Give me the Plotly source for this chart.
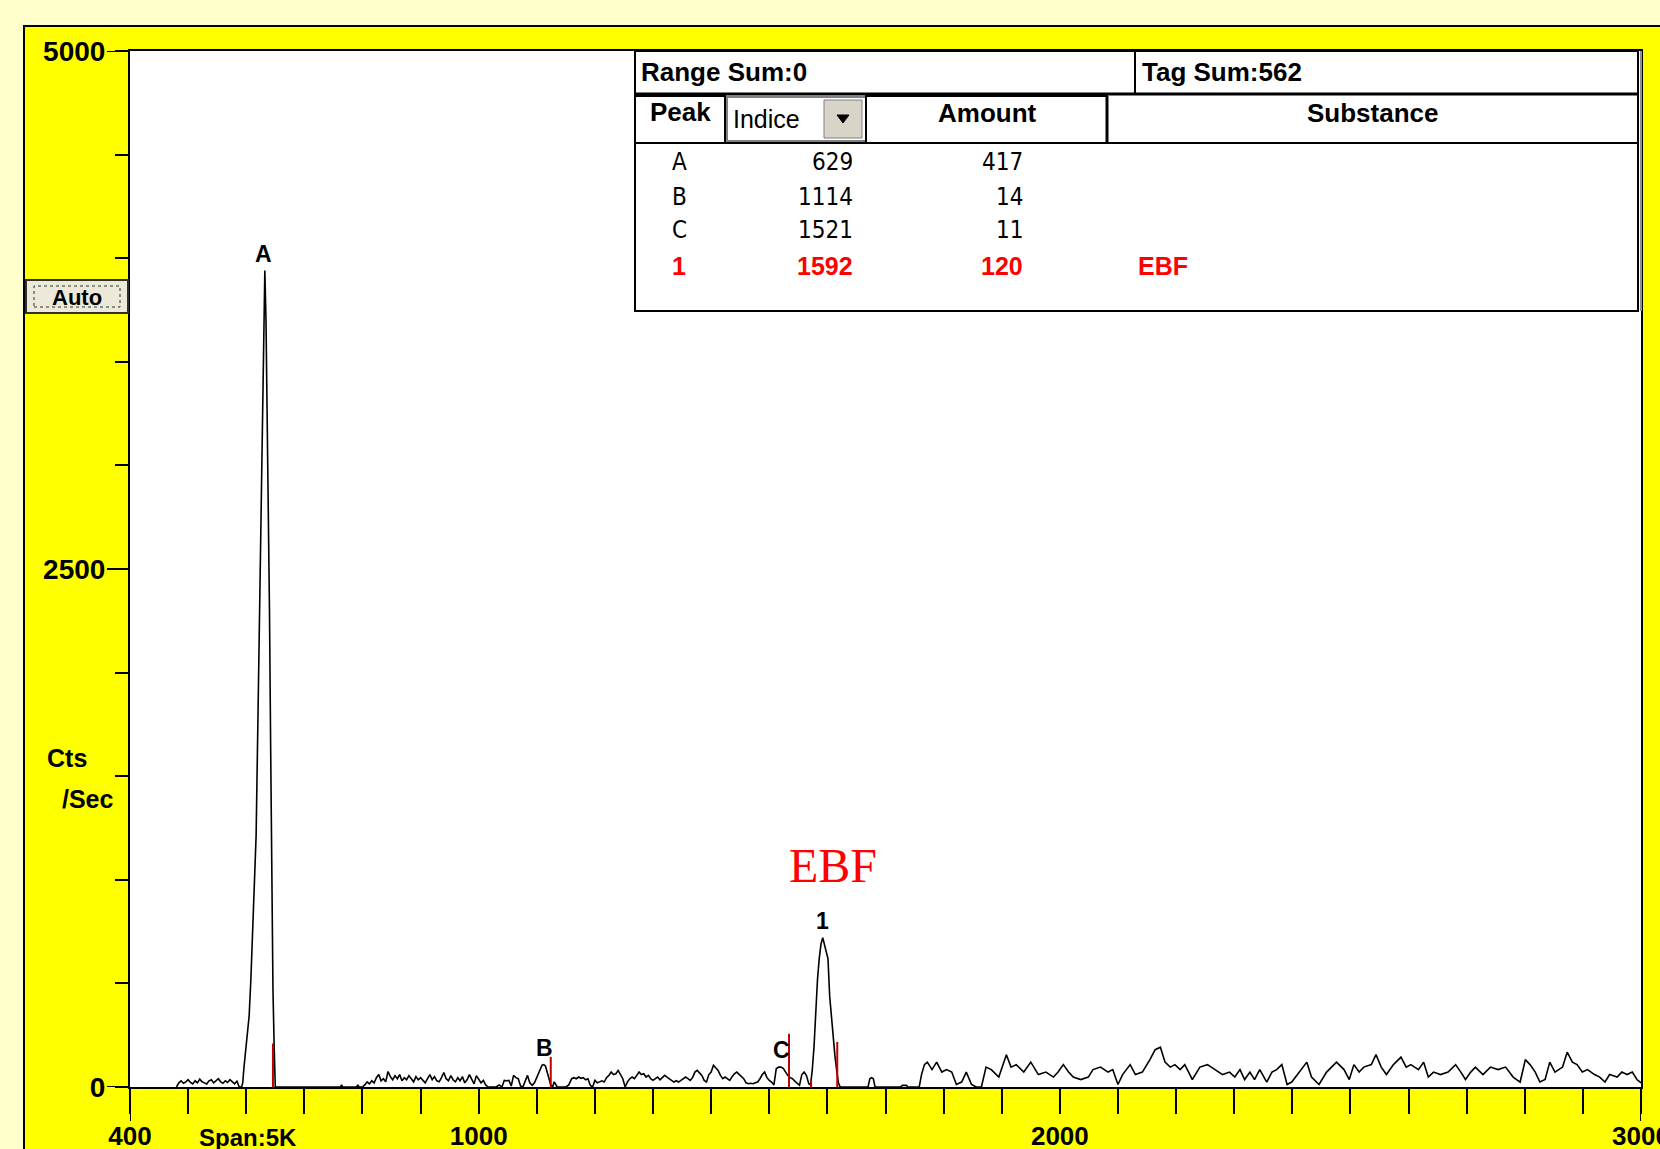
import plotly.graph_objects as go

# ---------------- data ----------------
# spectrum: retention index vs counts/sec
pre_a_idx = [480, 484, 488, 492, 496, 500, 504, 508, 512, 516, 520, 524, 528, 532, 536, 540, 544, 548, 552, 556, 560, 564, 568, 572, 576, 580, 584, 588]
pre_a_cps = [0, 20, 30, 18, 25, 35, 22, 15, 30, 20, 38, 25, 20, 15, 30, 35, 20, 28, 40, 25, 18, 30, 22, 35, 25, 15, 28, 0]

peak_a_idx = [592, 594, 596, 599, 602, 605, 608, 611, 614, 617, 620, 623, 626, 628, 630, 632, 634, 636, 638, 640, 642, 644, 646, 648, 650]
peak_a_cps = [0, 20, 92, 171, 250, 343, 520, 738, 960, 1212, 1750, 2332, 2800, 3229, 3703, 3940, 3703, 3300, 2912, 2300, 1647, 1000, 474, 200, 0]

gap_idx = [660, 700, 740, 762, 764, 766, 790, 792, 794, 800]
gap_cps = [0, 0, 0, 0, 10, 0, 0, 10, 0, 0]

mid_idx = [804, 808, 812, 816, 820, 824, 828, 832, 836, 840, 844, 848, 852, 856, 860, 864, 868, 872, 876, 880,
           884, 888, 892, 896, 900, 904, 908, 912, 916, 920, 924, 928, 932, 936, 940, 944, 948, 952, 956, 960,
           964, 968, 972, 976, 980, 984, 988, 992, 996, 1000]
mid_cps = [10, 25, 15, 30, 20, 45, 60, 30, 40, 25, 75, 50, 35, 55, 40, 60, 30, 45, 35, 55,
           40, 25, 50, 35, 45, 30, 20, 40, 60, 35, 50, 30, 25, 45, 70, 40, 30, 55, 35, 25,
           45, 30, 50, 20, 35, 60, 40, 15, 55, 40]

b_idx = [1004, 1008, 1012, 1016, 1020, 1025, 1030, 1035, 1040, 1044, 1048, 1052, 1056, 1060, 1064, 1068, 1072, 1076,
         1080, 1084, 1088, 1092, 1096, 1100, 1103, 1106, 1109, 1112, 1115, 1118, 1121, 1124, 1127, 1130, 1135, 1140]
b_cps = [20, 32, 10, 0, 0, 0, 0, 10, 0, 32, 30, 32, 5, 56, 45, 40, 5, 0,
         30, 56, 20, 8, 20, 45, 72, 90, 105, 108, 100, 70, 40, 10, 0, 25, 0, 0]

after_b_idx = [1145, 1150, 1155, 1160, 1164, 1168, 1172, 1176, 1180, 1184, 1188, 1192, 1196, 1200, 1204, 1208, 1212, 1216, 1220, 1224,
               1228, 1232, 1236, 1240, 1244, 1248, 1252, 1256, 1260, 1264, 1268, 1272, 1276, 1280, 1284, 1288, 1292, 1296, 1300]
after_b_cps = [0, 0, 10, 40, 45, 40, 48, 42, 45, 35, 40, 8, 0, 32, 20, 24, 30, 24, 45, 56,
               72, 60, 64, 80, 60, 40, 0, 25, 40, 48, 40, 56, 72, 60, 64, 48, 56, 40, 32]

before_c_idx = [1304, 1308, 1312, 1316, 1320, 1324, 1328, 1332, 1336, 1340, 1344, 1348, 1352, 1356, 1360, 1364, 1368, 1372, 1376, 1380,
                1384, 1388, 1392, 1396, 1400, 1404, 1408, 1412, 1416, 1420, 1424, 1428, 1432, 1436, 1440, 1444, 1448, 1452, 1456, 1460,
                1464, 1468, 1472, 1476, 1480, 1484, 1488, 1492, 1496, 1500, 1504, 1508]
before_c_cps = [40, 48, 35, 45, 56, 48, 40, 32, 24, 30, 24, 32, 40, 48, 40, 32, 45, 72, 80, 65,
                56, 32, 24, 60, 72, 105, 90, 80, 56, 40, 48, 40, 32, 50, 64, 72, 60, 48, 40, 20,
                16, 18, 16, 20, 24, 40, 60, 72, 45, 32, 24, 10]

c_peak1_idx = [1512, 1516, 1520, 1524, 1528, 1532, 1536, 1540, 1544, 1548, 1552, 1556, 1560, 1564, 1568, 1571, 1574, 1577, 1580, 1583,
               1586, 1589, 1592, 1595, 1598, 1601, 1604, 1607, 1610, 1613, 1616, 1619, 1622]
c_peak1_cps = [88, 96, 96, 90, 72, 55, 45, 40, 28, 20, 8, 60, 72, 55, 16, 10, 82, 195, 380, 520,
               621, 690, 720, 690, 660, 620, 436, 330, 243, 150, 80, 20, 0]

after_1_idx = [1630, 1650, 1670, 1673, 1676, 1679, 1682, 1700, 1726, 1729, 1736, 1739, 1750, 1758]
after_1_cps = [0, 0, 0, 40, 45, 40, 0, 0, 0, 8, 8, 0, 0, 0]

tail_idx = [1762, 1767, 1772, 1780, 1788, 1797, 1805, 1814, 1822, 1831, 1839, 1848, 1856, 1865, 1873, 1882, 1895, 1908, 1916, 1925,
            1938, 1950, 1963, 1976, 1989, 1997, 2006, 2015, 2023, 2036, 2049, 2057, 2070, 2083, 2091, 2100, 2108, 2121, 2130, 2142,
            2155, 2164, 2173, 2181, 2190, 2198, 2207, 2215, 2228, 2241, 2254, 2267, 2280, 2292, 2301, 2310, 2318, 2327, 2335, 2344,
            2356, 2365, 2373, 2382, 2391, 2399, 2412, 2425, 2433, 2446, 2459, 2468, 2476, 2489, 2498, 2506, 2515, 2523, 2536, 2544,
            2553, 2562, 2574, 2587, 2596, 2604, 2617, 2626, 2634, 2643, 2655, 2668, 2681, 2690, 2698, 2707, 2715, 2728, 2741, 2754,
            2767, 2780, 2792, 2801, 2809, 2818, 2826, 2835, 2843, 2852, 2865, 2873, 2882, 2890, 2899, 2908, 2920, 2929, 2938, 2946,
            2959, 2967, 2976, 2985, 2993, 3000]
tail_cps = [60, 108, 120, 84, 120, 72, 84, 72, 12, 24, 72, 12, 0, 0, 96, 84, 48, 156, 96, 108,
            72, 120, 60, 72, 48, 72, 108, 72, 48, 36, 48, 84, 96, 72, 84, 12, 60, 108, 60, 72,
            132, 180, 192, 120, 96, 108, 84, 108, 36, 96, 108, 84, 60, 72, 48, 84, 36, 72, 36, 84,
            24, 72, 84, 108, 12, 24, 72, 120, 48, 12, 72, 96, 120, 84, 36, 108, 72, 96, 108, 156,
            96, 60, 108, 144, 96, 108, 84, 120, 48, 72, 60, 72, 108, 72, 36, 72, 96, 60, 96, 84,
            96, 48, 24, 132, 108, 72, 24, 36, 120, 72, 96, 168, 120, 108, 72, 84, 60, 48, 24, 60,
            48, 72, 60, 72, 36, 20]

# peak boundary tags (red)
tag_idx = [646, 1124, 1534, 1572, 1617]
tag_cps = [210, 145, 257, 30, 217]

# peak table
peak_names = ["A", "B", "C", "1"]
peak_indices = [629, 1114, 1521, 1592]
peak_amounts = [417, 14, 11, 120]
peak_substance = ["", "", "", "EBF"]
peak_top_cps = [3940, 108, 96, 720]
range_sum = 0
tag_sum = 562

x_tick_vals = list(range(400, 3001, 100))
x_tick_labels = [400, 1000, 2000, 3000]
y_tick_vals = list(range(0, 5001, 500))
y_tick_labels = [0, 2500, 5000]

# ---------------- layout helpers ----------------
W, H = 1660, 1149
L, R, T, B = 130, 1641, 51, 1087  # plot area in pixels


def px(xp):
    return (xp - L) / (R - L)


def py(yp):
    return (B - yp) / (B - T)


SANS = "Liberation Sans, Arial, sans-serif"
NARROW = "Liberation Sans Narrow, Arial Narrow, DejaVu Sans Condensed, sans-serif"
SERIF = "Liberation Serif, Times New Roman, DejaVu Serif, serif"

spec_x = pre_a_idx + peak_a_idx + gap_idx + mid_idx + b_idx + after_b_idx + before_c_idx + c_peak1_idx + after_1_idx + tail_idx
spec_y = pre_a_cps + peak_a_cps + gap_cps + mid_cps + b_cps + after_b_cps + before_c_cps + c_peak1_cps + after_1_cps + tail_cps

fig = go.Figure()
fig.add_trace(go.Scatter(x=spec_x, y=spec_y, mode="lines",
                         line=dict(color="black", width=1.6), hoverinfo="skip"))

tx, ty = [], []
for xi, h in zip(tag_idx, tag_cps):
    tx += [xi, xi, None]
    ty += [0, h, None]
fig.add_trace(go.Scatter(x=tx, y=ty, mode="lines", line=dict(color="#C00000", width=2), hoverinfo="skip"))

shapes = []
annotations = []

# yellow panel and white plot area
shapes.append(dict(type="rect", xref="paper", yref="paper", x0=px(24), x1=px(1700), y0=py(26), y1=py(1200),
                   fillcolor="#FFFF00", line=dict(color="black", width=2), layer="below"))
shapes.append(dict(type="rect", xref="paper", yref="paper", x0=0, x1=1, y0=0, y1=1,
                   fillcolor="white", line=dict(width=0), layer="below"))

# longer ticks for labelled values
for v in y_tick_labels:
    shapes.append(dict(type="line", xref="paper", yref="y", x0=px(107), x1=px(118), y0=v, y1=v,
                       line=dict(color="black", width=2)))
for v in [x_tick_vals[0], x_tick_vals[-1]]:
    shapes.append(dict(type="line", xref="x", yref="paper", x0=v, x1=v, y0=py(1110), y1=py(1121),
                       line=dict(color="black", width=2)))

# ---- peak table ----
tl, tr, tt, tb = 635, 1638, 51, 311
shapes.append(dict(type="rect", xref="paper", yref="paper", x0=px(tl), x1=px(tr), y0=py(tb), y1=py(tt),
                   fillcolor="white", line=dict(color="black", width=2), layer="above"))
shapes.append(dict(type="line", xref="paper", yref="paper", x0=px(tr + 3), x1=px(tr + 3), y0=py(tb), y1=py(tt),
                   line=dict(color="#909090", width=2)))
shapes.append(dict(type="line", xref="paper", yref="paper", x0=px(tl), x1=px(tr), y0=py(94), y1=py(94),
                   line=dict(color="black", width=3)))
shapes.append(dict(type="line", xref="paper", yref="paper", x0=px(1135), x1=px(1135), y0=py(tt), y1=py(93),
                   line=dict(color="black", width=2)))
shapes.append(dict(type="line", xref="paper", yref="paper", x0=px(tl), x1=px(tr), y0=py(143), y1=py(143),
                   line=dict(color="black", width=2)))
# header cells
shapes.append(dict(type="rect", xref="paper", yref="paper", x0=px(tl), x1=px(725), y0=py(143), y1=py(96),
                   line=dict(color="black", width=2)))
shapes.append(dict(type="rect", xref="paper", yref="paper", x0=px(727), x1=px(866), y0=py(141), y1=py(97),
                   fillcolor="white", line=dict(color="#808080", width=2)))
shapes.append(dict(type="rect", xref="paper", yref="paper", x0=px(824), x1=px(862), y0=py(138), y1=py(100),
                   fillcolor="#D8D4C8", line=dict(color="#808080", width=1)))
shapes.append(dict(type="path", xref="paper", yref="paper",
                   path=f"M {px(837)},{py(115)} L {px(849)},{py(115)} L {px(843)},{py(123)} Z",
                   fillcolor="black", line=dict(color="black", width=1)))
shapes.append(dict(type="rect", xref="paper", yref="paper", x0=px(866), x1=px(1107), y0=py(143), y1=py(96),
                   line=dict(color="black", width=2)))
shapes.append(dict(type="line", xref="paper", yref="paper", x0=px(1107), x1=px(1107), y0=py(143), y1=py(96),
                   line=dict(color="black", width=3)))

# Auto button
shapes.append(dict(type="rect", xref="paper", yref="paper", x0=px(26), x1=px(128), y0=py(313), y1=py(280),
                   fillcolor="#ECE9D8", line=dict(color="#303030", width=2)))
shapes.append(dict(type="rect", xref="paper", yref="paper", x0=px(34), x1=px(120), y0=py(307), y1=py(286),
                   line=dict(color="#303030", width=1, dash="dot")))


def ann(text, x, y, size, xanchor="left", color="black", bold=True, family=SANS):
    annotations.append(dict(text=text, xref="paper", yref="paper", x=px(x), y=py(y), showarrow=False,
                            xanchor=xanchor, yanchor="middle",
                            font=dict(family=family, size=size, color=color,
                                      weight="bold" if bold else "normal")))


ann("Auto", 77, 297, 22, "center")
ann("Cts", 45, 758, 25)
ann("/Sec", 60, 799, 25)
ann("Span:5K", 197, 1137, 24)

ann(f"Range Sum:{range_sum}", 639, 72, 26)
ann(f"Tag Sum:{tag_sum}", 1140, 72, 26)
ann("Peak", 680, 112, 26, "center")
ann("Indice", 731, 119, 25, bold=False)
ann("Amount", 987, 113, 26, "center")
ann("Substance", 1373, 113, 26, "center")

row_y = [162, 197, 230, 266]
for name, idx, amt, sub, yy in zip(peak_names, peak_indices, peak_amounts, peak_substance, row_y):
    red = sub != ""
    color = "#FF0000" if red else "black"
    fam = SANS if red else NARROW
    size = 25 if red else 24
    ann(name, 679, yy, size, "center", color, red, fam)
    ann(str(idx), 855, yy, size, "right", color, red, fam)
    ann(str(amt), 1025, yy, size, "right", color, red, fam)
    if sub:
        ann(sub, 1136, yy, size, "left", color, red, fam)

# peak letters above the trace
for name, idx, top in zip(peak_names, peak_indices, peak_top_cps):
    annotations.append(dict(text=name, xref="x", yref="y", x=idx, y=top, showarrow=False,
                            xanchor="center", yanchor="middle", yshift=17,
                            font=dict(family=SANS, size=23, color="black", weight="bold")))

# substance name in red serif
for name, idx, top, sub in zip(peak_names, peak_indices, peak_top_cps, peak_substance):
    if sub:
        annotations.append(dict(text=sub, xref="x", yref="y", x=idx + 18, y=top, showarrow=False,
                                xanchor="center", yanchor="middle", yshift=72,
                                font=dict(family=SERIF, size=48, color="#FF0000")))

fig.update_xaxes(range=[400, 3000], tickvals=x_tick_vals,
                 ticktext=[str(v) if v in x_tick_labels else "" for v in x_tick_vals],
                 ticks="outside", ticklen=25, tickwidth=2, tickcolor="black",
                 showline=True, linewidth=2, linecolor="black", mirror=True,
                 showgrid=False, zeroline=False, ticklabelstandoff=0,
                 automargin=False, ticklabeloverflow="allow",
                 tickfont=dict(family=SANS, size=26, color="black", weight="bold"))
fig.update_yaxes(range=[0, 5000], tickvals=y_tick_vals,
                 ticktext=[str(v) if v in y_tick_labels else "" for v in y_tick_vals],
                 ticks="outside", ticklen=13, tickwidth=2, tickcolor="black",
                 showline=True, linewidth=2, linecolor="black", mirror=True,
                 showgrid=False, zeroline=False, ticklabelstandoff=4,
                 automargin=False, ticklabeloverflow="allow",
                 tickfont=dict(family=SANS, size=28, color="black", weight="bold"))

fig.update_layout(width=W, height=H, autosize=False,
                  margin=dict(l=L, r=W - R, t=T, b=H - B, pad=0, autoexpand=False),
                  paper_bgcolor="#FFFFCC", plot_bgcolor="white",
                  showlegend=False, shapes=shapes, annotations=annotations)

fig.write_html("out.html", config={"displayModeBar": False},
               post_script="document.body.style.margin='0';document.body.style.overflow='hidden';"
                           "document.body.style.background='#FFFFCC';")
